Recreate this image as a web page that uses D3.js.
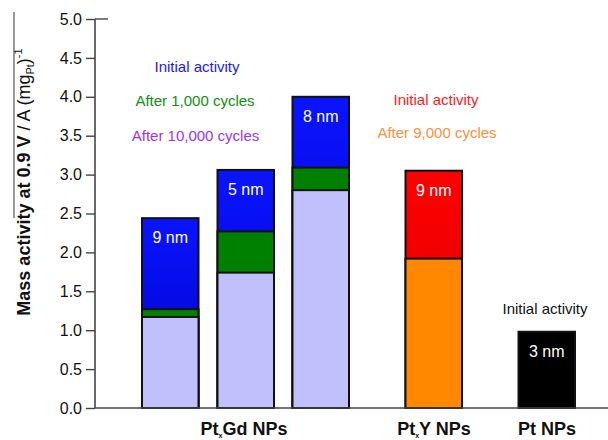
<!DOCTYPE html>
<html>
<head>
<meta charset="utf-8">
<script src="https://cdn.jsdelivr.net/npm/d3@7"></script>
<style>
  html, body { margin: 0; padding: 0; background: #fff; }
  svg { display: block; font-family: "Liberation Sans", Arial, sans-serif; }
</style>
</head>
<body>
<svg id="chart" width="608" height="440"></svg>
<script>
// Mass activity of the catalysts (A per mg Pt at 0.9 V)
const bars = ["PtxGd 9 nm", "PtxGd 5 nm", "PtxGd 8 nm", "PtxY 9 nm", "Pt 3 nm"];
const sizes = ["9 nm", "5 nm", "8 nm", "9 nm", "3 nm"];
const initialActivity = [2.44, 3.06, 4.00, 3.05, 0.98];
const after1000 = [1.27, 2.27, 3.09, null, null];
const after10000 = [1.17, 1.74, 2.80, null, null];
const after9000 = [null, null, null, 1.92, null];
const yTicks = [0, 0.5, 1, 1.5, 2, 2.5, 3, 3.5, 4, 4.5, 5];
const groupLabels = [
  { main: "Pt", sub: "x", rest: "Gd NPs", center: 244 },
  { main: "Pt", sub: "x", rest: "Y NPs", center: 434 },
  { main: "Pt", sub: "", rest: " NPs", center: 547 }
];

const svg = d3.select("#chart");
const axisX = 95, baseY = 408;

const y = d3.scaleLinear().domain([0, 5]).range([baseY, 19]);
const x = d3.scaleOrdinal().domain(bars).range([142, 217.5, 292.5, 405.5, 518.5]);
const barW = 56.5;

// gradients for the top layers
const defs = svg.append("defs");
function grad(id, top, bottom) {
  const g = defs.append("linearGradient").attr("id", id)
    .attr("x1", 0).attr("y1", 0).attr("x2", 0).attr("y2", 1);
  g.append("stop").attr("offset", "0%").attr("stop-color", top);
  g.append("stop").attr("offset", "100%").attr("stop-color", bottom);
}
grad("gBlue", "#0a14ff", "#0000c4");
grad("gRed", "#ff0000", "#d80000");

// overlaid bars, tallest first
const layers = [
  { values: initialActivity.slice(0, 3).concat([null, null]), fill: "url(#gBlue)" },
  { values: [null, null, null, initialActivity[3], null], fill: "url(#gRed)" },
  { values: [null, null, null, null, initialActivity[4]], fill: "#000" },
  { values: after1000, fill: "#008000" },
  { values: after9000, fill: "#ff8800" },
  { values: after10000, fill: "#c0c0fc" }
];
layers.forEach(layer => {
  svg.append("g").selectAll("rect")
    .data(bars.map((b, i) => ({ b, v: layer.values[i] })).filter(d => d.v != null))
    .join("rect")
    .attr("x", d => x(d.b))
    .attr("y", d => y(d.v))
    .attr("width", barW)
    .attr("height", d => y(0) - y(d.v))
    .attr("fill", layer.fill)
    .attr("stroke", "#111")
    .attr("stroke-width", 2);
});

// particle size labels inside the bars
svg.append("g").selectAll("text")
  .data(bars.map((b, i) => ({ b, v: initialActivity[i], s: sizes[i] })))
  .join("text")
  .attr("x", d => x(d.b) + barW / 2)
  .attr("y", d => y(d.v) + 25)
  .attr("text-anchor", "middle")
  .attr("fill", "#fff")
  .attr("font-size", 16)
  .text(d => d.s);

// y axis
const yAxis = d3.axisLeft(y).tickValues(yTicks).tickFormat(d3.format(".1f")).tickSize(9).tickPadding(4);
const ga = svg.append("g").attr("transform", `translate(${axisX},0)`).call(yAxis);
ga.select(".domain").attr("stroke", "#444").attr("stroke-width", 1.6).attr("d", `M0,${y(5)}V${baseY}`);
ga.selectAll(".tick line").attr("stroke", "#444").attr("stroke-width", 1.4);
ga.selectAll(".tick text").attr("font-size", 16).attr("fill", "#111")
  .attr("font-family", "Liberation Sans, Arial, sans-serif");
// short cap at the top of the axis
svg.append("line").attr("x1", axisX).attr("x2", 108).attr("y1", y(5)).attr("y2", y(5))
  .attr("stroke", "#444").attr("stroke-width", 1.4);

// x baseline
svg.append("line").attr("x1", axisX).attr("x2", 608).attr("y1", baseY).attr("y2", baseY)
  .attr("stroke", "#444").attr("stroke-width", 1.6);

// y axis title
const title = svg.append("text")
  .attr("transform", "translate(30,182) rotate(-90)")
  .attr("text-anchor", "middle")
  .attr("font-size", 18)
  .attr("fill", "#111");
title.append("tspan").attr("font-weight", "bold").text("Mass activity at 0.9 V");
title.append("tspan").text(" / A (mg");
title.append("tspan").attr("font-size", 11).attr("dy", 4).text("Pt");
title.append("tspan").attr("dy", -4).text(")");
title.append("tspan").attr("font-size", 11).attr("dy", -8).text("-1");
svg.append("line").attr("x1", 14).attr("x2", 14).attr("y1", 12).attr("y2", 218)
  .attr("stroke", "#555").attr("stroke-width", 1.2);

// group labels
groupLabels.forEach(g => {
  const t = svg.append("text")
    .attr("x", g.center).attr("y", 435)
    .attr("text-anchor", "middle")
    .attr("font-size", 18).attr("font-weight", "bold").attr("fill", "#111");
  t.append("tspan").text(g.main);
  if (g.sub) {
    t.append("tspan").attr("font-size", 7).attr("dy", 3).text(g.sub);
    t.append("tspan").attr("dy", -3).text(g.rest);
  } else {
    t.append("tspan").text(g.rest);
  }
});

// legend notes
const notes = [
  { text: "Initial activity", x: 197, y: 72, color: "#1a1aff" },
  { text: "After 1,000 cycles", x: 195, y: 106, color: "#119011" },
  { text: "After 10,000 cycles", x: 195.5, y: 141, color: "#9933ff" },
  { text: "Initial activity", x: 436, y: 105, color: "#ff1a1a" },
  { text: "After 9,000 cycles", x: 437, y: 138, color: "#ff9040" },
  { text: "Initial activity", x: 545, y: 314, color: "#111" }
];
svg.append("g").selectAll("text").data(notes).join("text")
  .attr("x", d => d.x).attr("y", d => d.y)
  .attr("text-anchor", "middle")
  .attr("font-size", 15)
  .attr("fill", d => d.color)
  .text(d => d.text);
</script>
</body>
</html>
